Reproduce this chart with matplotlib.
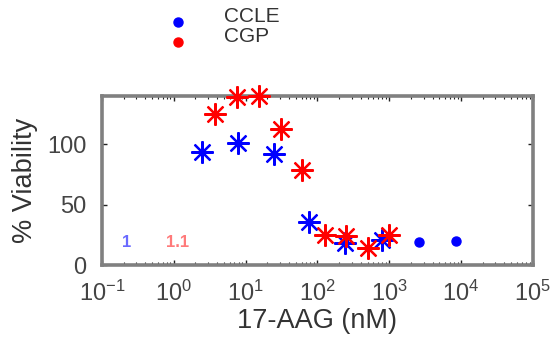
import matplotlib
matplotlib.use("Agg")
import matplotlib.pyplot as plt
from matplotlib.lines import Line2D
from matplotlib.ticker import LogLocator, FixedLocator, NullFormatter

plt.rcParams['font.family'] = ['Liberation Sans', 'DejaVu Sans']
plt.rcParams['mathtext.fontset'] = 'custom'
plt.rcParams['mathtext.rm'] = 'Liberation Sans'
plt.rcParams['mathtext.it'] = 'Liberation Sans:italic'
plt.rcParams['mathtext.bf'] = 'Liberation Sans:bold'

# data
ccle_conc = [2.5, 7.8, 24.5, 77, 245, 800]
ccle_viab = [94, 101.5, 92, 36, 18.5, 21]
ccle_extra_conc = [2600, 8400]
ccle_extra_viab = [19.3, 20]
cgp_conc = [3.8, 7.6, 15.5, 31, 61, 127, 250, 500, 1000]
cgp_viab = [125, 139.5, 140, 113, 79, 24.5, 24, 14.5, 24.5]
xtick_vals = [1e-1, 1e0, 1e1, 1e2, 1e3, 1e4, 1e5]
xtick_labels = ['$10^{-1}$', '$10^{0}$', '$10^{1}$', '$10^{2}$', '$10^{3}$', '$10^{4}$', '$10^{5}$']
ytick_vals = [0, 50, 100]
series_names = ['CCLE', 'CGP']
ccle_note = '1'
cgp_note = '1.1'

fig = plt.figure(figsize=(5.54, 3.42), dpi=100)
ax = fig.add_axes([0.184, 0.225, 0.778, 0.494])

star = (8, 2, 0)
ax.plot(ccle_conc, ccle_viab, linestyle='none', marker=star, markersize=16,
        markeredgewidth=1.6, color='#0000ff', clip_on=False, zorder=3)
ax.plot(ccle_extra_conc, ccle_extra_viab, linestyle='none', marker='o', markersize=6.5,
        color='#0000ff', clip_on=False, zorder=3)
ax.plot(cgp_conc, cgp_viab, linestyle='none', marker=star, markersize=16,
        markeredgewidth=1.6, color='#ff0000', clip_on=False, zorder=4)

ax.text(0.22, 18.5, ccle_note, color='#6a6aff', fontsize=12, fontweight='bold',
        ha='center', va='center')
ax.text(1.14, 18.5, cgp_note, color='#ff7a7a', fontsize=12, fontweight='bold',
        ha='center', va='center')

ax.set_xscale('log')
ax.set_xlim(1e-1, 1e5)
ax.set_ylim(0, 140)
ax.xaxis.set_major_locator(FixedLocator(xtick_vals))
ax.set_xticklabels(xtick_labels)
ax.xaxis.set_minor_locator(LogLocator(base=10, subs=range(2, 10), numticks=20))
ax.xaxis.set_minor_formatter(NullFormatter())
ax.set_yticks(ytick_vals)

ax.tick_params(axis='both', which='major', direction='in', length=3.5, width=1.0,
               top=True, right=True, labelsize=17, colors='#222222',
               labelcolor='#444444')
ax.tick_params(axis='x', which='major', pad=11)
ax.tick_params(axis='x', which='minor', direction='in', length=2, width=0.8,
               top=True, bottom=True, colors='#222222')
ax.tick_params(axis='y', which='major', pad=11)
for s in ax.spines.values():
    s.set_linewidth(2.6)
    s.set_color('#808080')

ax.set_xlabel('17-AAG (nM)', fontsize=19.5, color='#333333', labelpad=2)
ax.set_ylabel('% Viability', fontsize=19.5, color='#333333', labelpad=7)

# legend-like key
fig.add_artist(Line2D([177.7 / 554], [1 - 21.7 / 342], marker='o', markersize=6.5,
                      color='#0000ff', linestyle='none', transform=fig.transFigure))
fig.add_artist(Line2D([177.7 / 554], [1 - 41.7 / 342], marker='o', markersize=6.5,
                      color='#ff0000', linestyle='none', transform=fig.transFigure))
fig.text(224 / 554, 1 - 17 / 342, series_names[0], fontsize=15, color='#333333',
         ha='left', va='center')
fig.text(224 / 554, 1 - 36 / 342, series_names[1], fontsize=15, color='#333333',
         ha='left', va='center')

fig.savefig('out.png', dpi=100)
